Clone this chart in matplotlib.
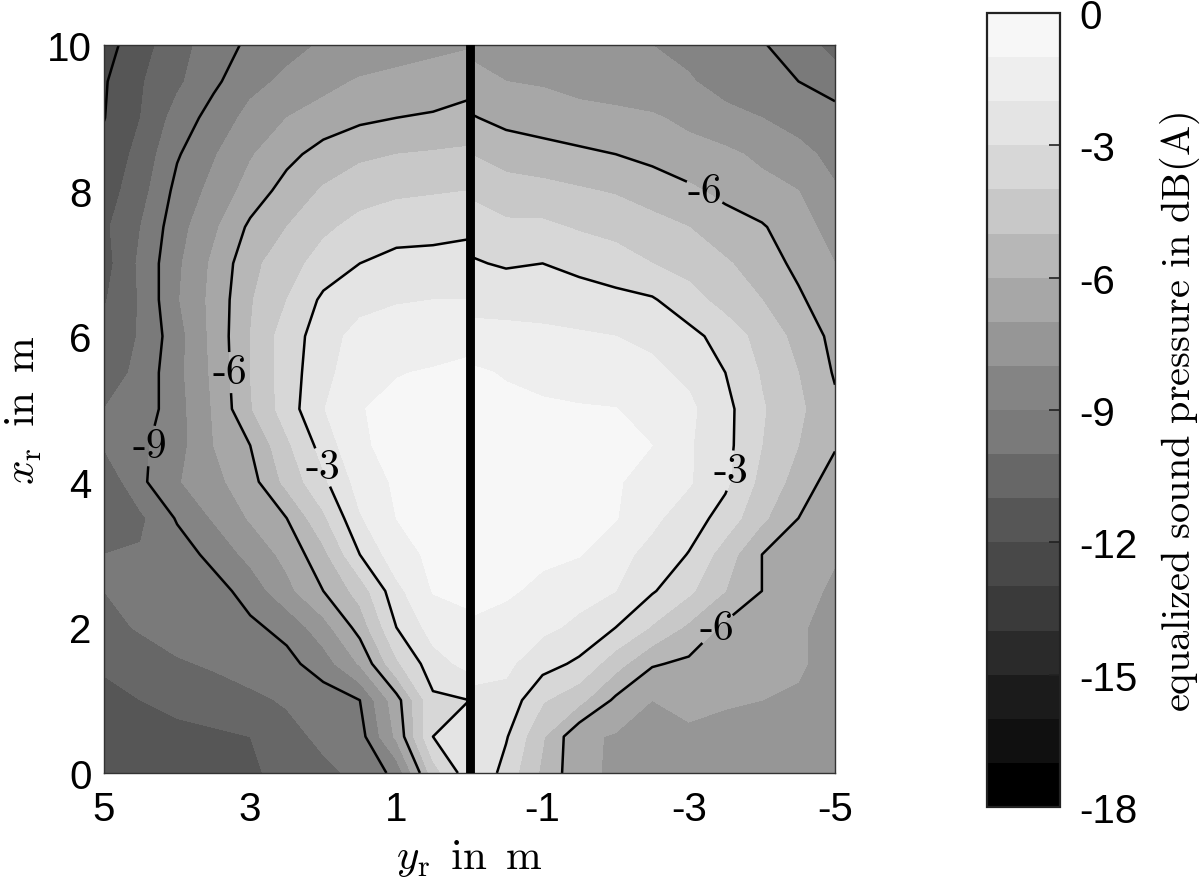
import numpy as np
import matplotlib
matplotlib.use('Agg')
import matplotlib.pyplot as plt

plt.rcParams['font.family'] = ['Liberation Sans', 'DejaVu Sans']
plt.rcParams['mathtext.fontset'] = 'cm'
plt.rcParams['contour.negative_linestyle'] = 'solid'

xr = [10, 9.5, 9, 8.5, 8, 7.5, 7, 6.5, 6, 5.5, 5, 4.5, 4, 3.5, 3, 2.5, 2, 1.5, 1, 0.5, 0]
yr_left = [5, 4.5, 4, 3.5, 3, 2.5, 2, 1.5, 1, 0.5, 0]
yr_right = [0, -0.5, -1, -1.5, -2, -2.5, -3, -3.5, -4, -4.5, -5]

# equalized sound pressure, one row per xr, barrier splits the field at yr = 0
spl_left = [
    [-12.4, -11.4, -10.4, -9.5, -8.8, -8.3, -7.9, -7.7, -7.5, -7.3, -7.1],
    [-12.1, -11.1, -10.2, -9.2, -8.3, -7.8, -7.3, -6.9, -6.7, -6.5, -6.3],
    [-12.03, -11.0, -9.6, -8.6, -7.7, -7.0, -6.6, -6.2, -6.0, -5.9, -5.7],
    [-11.7, -10.7, -9.1, -8.1, -7.1, -6.3, -5.6, -5.2, -5.0, -4.9, -4.8],
    [-11.5, -10.4, -8.7, -7.7, -6.6, -5.6, -4.9, -4.4, -4.2, -4.1, -4.0],
    [-11.2, -10.0, -8.4, -7.2, -5.8, -5.0, -4.2, -3.7, -3.4, -3.3, -3.2],
    [-11.4, -9.8, -8.2, -6.8, -5.3, -4.4, -3.6, -3.0, -2.7, -2.7, -2.6],
    [-11.1, -9.9, -8.1, -6.7, -5.1, -4.0, -2.8, -2.4, -2.1, -2.0, -2.0],
    [-10.8, -9.9, -8.4, -6.7, -5.0, -3.5, -2.5, -1.6, -1.4, -1.3, -1.2],
    [-10.6, -9.7, -8.3, -6.8, -5.0, -3.5, -2.3, -1.4, -1.03, -0.95, -0.85],
    [-10.0, -9.6, -8.4, -6.9, -5.1, -3.5, -2.05, -1.03, -0.85, -0.7, -0.65],
    [-9.9, -9.2, -8.4, -7.0, -6.0, -4.2, -2.6, -1.1, -0.8, -0.6, -0.5],
    [-10.8, -9.2, -8.1, -7.3, -6.4, -4.7, -3.2, -1.6, -0.85, -0.65, -0.6],
    [-10.5, -10.2, -8.9, -7.9, -6.9, -6.0, -4.2, -2.1, -1.0, -0.7, -0.65],
    [-10.0, -9.9, -9.5, -8.7, -7.7, -6.7, -5.3, -3.0, -1.4, -0.8, -0.7],
    [-10.0, -9.8, -9.6, -9.4, -8.6, -7.3, -6.0, -4.6, -2.3, -0.95, -0.8],
    [-10.3, -9.9, -9.6, -9.4, -9.2, -8.7, -7.4, -5.6, -3.0, -1.6, -1.2],
    [-10.9, -10.5, -10.1, -9.9, -9.6, -9.3, -8.5, -6.9, -4.2, -2.4, -1.7],
    [-11.2, -11.0, -10.7, -10.4, -10.2, -9.9, -9.5, -9.0, -6.4, -3.2, -3.0],
    [-11.5, -11.4, -11.3, -11.2, -11.0, -10.3, -9.8, -9.4, -6.8, -3.0, -2.5],
    [-11.6, -11.6, -11.5, -11.4, -11.2, -10.6, -10.2, -9.8, -8.7, -4.5, -2.3],
]
spl_right = [
    [-7.2, -7.3, -7.4, -7.5, -7.7, -8.0, -8.3, -8.6, -8.9, -9.6, -10.3],
    [-6.7, -7.0, -7.1, -7.3, -7.4, -7.6, -7.9, -8.4, -8.7, -9.0, -9.6],
    [-5.9, -6.3, -6.5, -6.7, -6.8, -6.9, -7.2, -7.7, -8.0, -8.4, -8.5],
    [-5.0, -5.4, -5.6, -5.8, -6.0, -6.3, -6.7, -6.8, -7.2, -7.7, -8.3],
    [-4.2, -4.6, -4.7, -4.9, -5.1, -5.4, -5.8, -6.3, -6.7, -7.0, -7.9],
    [-3.4, -3.8, -3.8, -4.1, -4.3, -4.7, -5.0, -5.5, -5.9, -6.6, -7.4],
    [-2.9, -3.1, -3.0, -3.3, -3.6, -4.0, -4.4, -4.9, -5.4, -6.3, -7.0],
    [-2.3, -2.4, -2.4, -2.5, -2.7, -2.9, -3.6, -4.4, -5.0, -5.8, -6.8],
    [-1.7, -1.7, -1.8, -1.9, -2.0, -2.2, -2.7, -3.4, -4.4, -5.3, -6.3],
    [-0.8, -1.1, -1.3, -1.3, -1.5, -1.8, -2.2, -3.0, -4.1, -5.0, -6.1],
    [-0.6, -0.7, -0.85, -0.95, -0.98, -1.3, -1.8, -2.7, -3.9, -4.8, -5.8],
    [-0.6, -0.6, -0.65, -0.7, -0.8, -1.0, -1.9, -2.7, -4.0, -5.0, -5.9],
    [-0.6, -0.6, -0.65, -0.75, -0.9, -1.4, -1.9, -2.8, -4.3, -5.4, -6.5],
    [-0.6, -0.65, -0.7, -0.8, -0.95, -1.8, -2.5, -3.4, -4.8, -6.0, -6.7],
    [-0.7, -0.7, -0.8, -0.95, -1.7, -2.3, -3.05, -4.5, -6.0, -6.6, -6.9],
    [-0.75, -0.85, -1.25, -1.7, -2.0, -2.9, -3.8, -5.0, -6.0, -6.6, -7.2],
    [-1.1, -1.4, -1.8, -2.2, -3.0, -4.1, -5.2, -6.2, -6.5, -6.9, -7.3],
    [-1.7, -1.8, -2.6, -3.2, -4.6, -5.9, -6.2, -6.4, -6.5, -6.9, -7.3],
    [-2.2, -2.3, -3.9, -4.7, -6.2, -7.0, -6.7, -6.9, -7.0, -7.1, -7.4],
    [-1.9, -2.9, -4.9, -6.8, -7.1, -7.2, -7.2, -7.3, -7.4, -7.5, -7.6],
    [-1.8, -3.4, -5.2, -6.7, -7.2, -7.3, -7.4, -7.4, -7.5, -7.6, -7.6],
]

levels = np.arange(-18, 1, 1)
line_levels = [-12, -9, -6, -3]
# band greys, from -18 up to 0
band_greys = [0, 16, 27, 42, 58, 72, 86, 103, 122, 132, 150, 167, 183, 200, 215, 228, 238, 247]
band_colors = [(g / 255, g / 255, g / 255) for g in band_greys]

cbar_ticks = [0, -3, -6, -9, -12, -15, -18]
x_ticks = [5, 3, 1, -1, -3, -5]
y_ticks = [0, 2, 4, 6, 8, 10]

W, H = 1200, 879
fig = plt.figure(figsize=(W / 100, H / 100), dpi=100)
ax = fig.add_axes([104 / W, 1 - 774 / H, 731 / W, 728 / H])
cax = fig.add_axes([987 / W, 1 - 808 / H, 73 / W, 794 / H])

cf = ax.contourf(yr_left, xr, spl_left, levels=levels, colors=band_colors)
ax.contourf(yr_right, xr, spl_right, levels=levels, colors=band_colors)
cs_left = ax.contour(yr_left, xr, spl_left, levels=line_levels, colors='black', linewidths=1.8)
cs_right = ax.contour(yr_right, xr, spl_right, levels=line_levels, colors='black', linewidths=1.8)

ax.set_xlim(5, -5)
ax.set_ylim(0, 10)

labels = ax.clabel(cs_left, fmt='%d', fontsize=30, inline_spacing=2,
                   manual=[(4.45, 4.5), (3.28, 5.5), (2.0, 4.2)])
labels += ax.clabel(cs_right, fmt='%d', fontsize=30, inline_spacing=2,
                    manual=[(-3.58, 4.15), (-3.26, 8.05), (-3.42, 1.95)])
for t in labels:
    t.set_rotation(0)
    t.set_family('cmr10')

# barrier
ax.axvline(0, color='black', lw=6.4, zorder=5)

ax.set_xticks(x_ticks, [str(v) for v in x_ticks])
ax.set_yticks(y_ticks, [str(v) for v in y_ticks])
ax.tick_params(length=0, labelsize=29)
ax.tick_params(axis='x', pad=12)
ax.tick_params(axis='y', pad=9)
for s in ax.spines.values():
    s.set_color('#333333')
    s.set_linewidth(1.0)

cb = fig.colorbar(cf, cax=cax, ticks=cbar_ticks)
cb.ax.set_yticklabels([str(v) for v in cbar_ticks])
cb.ax.tick_params(labelsize=29, direction='in', length=8, width=1.2, color='#222222', pad=14)
cb.outline.set_linewidth(1.6)
cb.outline.set_edgecolor('#222222')

fig.text(469 / W, 1 - 859 / H, r'$y_{\mathrm{r}}\ \,\mathrm{in}\ \,\mathrm{m}$', fontsize=31, ha='center', va='center')
fig.text(24 / W, 1 - 410 / H, r'$x_{\mathrm{r}}\ \,\mathrm{in}\ \,\mathrm{m}$', fontsize=31, ha='center', va='center', rotation=90)
fig.text(1180 / W, 1 - 412 / H, r'$\mathrm{equalized\ sound\ pressure\ in\ dB(A)}$', fontsize=29,
         ha='center', va='center', rotation=90)

fig.savefig('out.png', dpi=100)
